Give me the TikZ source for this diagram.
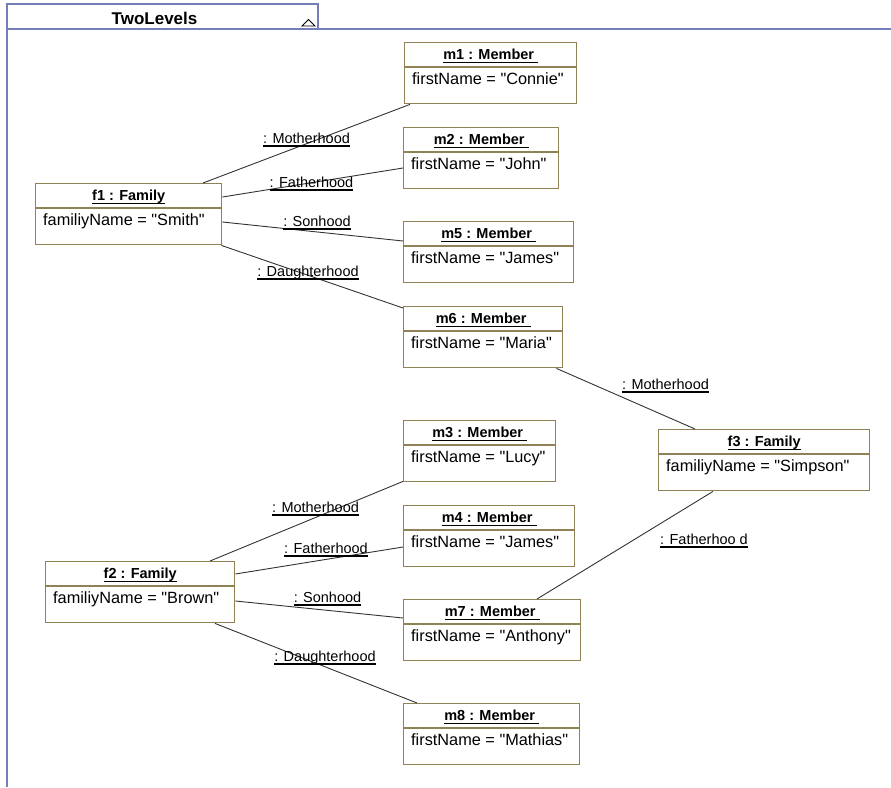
\documentclass[tikz,border=0pt]{standalone}
\usepackage{fontspec}
\setmainfont[Ligatures=TeXOff]{Liberation Sans}
\usepackage{xcolor}
\definecolor{framecol}{RGB}{118,126,186}
\definecolor{boxcol}{RGB}{145,130,85}
\newcommand{\uln}[1]{\setbox0=\hbox{#1}\rlap{\rule[-3.5pt]{\wd0}{1.1pt}}\box0}
\tikzstyle{objbox} = [draw=boxcol,line width=1.4pt,minimum height=61pt,inner sep=0pt,anchor=north west]
\tikzstyle{hdr} = [font=\fontsize{14.5}{17}\selectfont\bfseries,inner sep=0pt,anchor=base]
\tikzstyle{attr} = [font=\fontsize{16.3}{19}\selectfont,inner sep=0pt,anchor=base west]
\tikzstyle{lbl} = [font=\fontsize{14.5}{17}\selectfont,inner sep=0pt,anchor=base]
\tikzstyle{link} = [draw=black!80,line width=0.9pt]

\begin{document}
\begin{tikzpicture}[x=1pt,y=-1pt]
\useasboundingbox (0,0) rectangle (891,787);

\draw[framecol,line width=1.3pt] (7,787) -- (7,4) -- (318,4) -- (318,29);
\draw[framecol,line width=1.3pt] (7,29) -- (891,29);
\node[font=\fontsize{17}{20}\selectfont\bfseries,inner sep=0pt,anchor=base] (title) at (154.5,24) {TwoLevels};
\draw[line width=0.9pt] (302,26) -- (315,26) -- (308.5,19.5) -- cycle;

\foreach \n/\x/\y/\w/\t/\a in {
	m1/404/42/172/m1 : Member\ /firstName = "Connie",
	m2/403/127/155/m2 : Member\ /firstName = "John",
	m5/403/221/170/m5 : Member\ /firstName = "James",
	m6/403/306/159/m6 : Member\ /firstName = "Maria",
	f1/35/183/186/f1 : Family/familiyName = "Smith",
	f3/658/429/211/f3 : Family/familiyName = "Simpson",
	m3/403/420/152/m3 : Member\ /firstName = "Lucy",
	m4/403/505/171/m4 : Member\ /firstName = "James",
	f2/45/561/189/f2 : Family/familiyName = "Brown",
	m7/403/599/177/m7 : Member\ /firstName = "Anthony",
	m8/403/703/176/m8 : Member\ /firstName = "Mathias"}{
	\node[objbox,minimum width=\w pt] (\n) at (\x,\y) {};
	\draw[draw=boxcol,line width=1.2pt] ([yshift=-25pt]\n.north west) -- ([yshift=-25pt]\n.north east);
	\node[hdr] at ([yshift=-17.5pt]\n.north) {\uln{\t}};
	\node[attr] at ([xshift=8pt,yshift=-42pt]\n.north west) {\a};
}

\draw[link] ([xshift=168pt]f1.north west) -- ([xshift=6pt]m1.south west);
\draw[link] ([yshift=-14pt]f1.north east) -- ([yshift=-41pt]m2.north west);
\draw[link] ([yshift=-39pt]f1.north east) -- ([yshift=-20pt]m5.north west);
\draw[link] ([xshift=-1pt]f1.south east) -- ([yshift=-2pt]m6.north west);
\draw[link] ([xshift=-7pt]m6.south east) -- ([xshift=37pt]f3.north west);
\draw[link] ([xshift=165pt]f2.north west) -- ([yshift=1pt]m3.south west);
\draw[link] ([yshift=-13pt]f2.north east) -- ([yshift=-42pt]m4.north west);
\draw[link] ([yshift=-40pt]f2.north east) -- ([yshift=-19pt]m7.north west);
\draw[link] ([xshift=170pt]f2.south west) -- ([xshift=14pt]m8.north west);
\draw[link] ([xshift=134pt]m7.north west) -- ([xshift=55pt]f3.south west);

\node[lbl] (l1) at (306.5,143) {\uln{: Motherhood}};
\node[lbl] (l2) at (311.5,187) {\uln{: Fatherhood}};
\node[lbl] (l3) at (317,226) {\uln{: Sonhood}};
\node[lbl] (l4) at (308,276) {\uln{: Daughterhood}};
\node[lbl] (l5) at (665.5,389) {\uln{: Motherhood}};
\node[lbl] (l6) at (315.5,512) {\uln{: Motherhood}};
\node[lbl] (l7) at (326,553) {\uln{: Fatherhood}};
\node[lbl] (l8) at (327.5,602) {\uln{: Sonhood}};
\node[lbl] (l9) at (325,661) {\uln{: Daughterhood}};
\node[lbl] (l10) at (704,544) {\uln{: Fatherhoo d}};
\end{tikzpicture}
\end{document}
